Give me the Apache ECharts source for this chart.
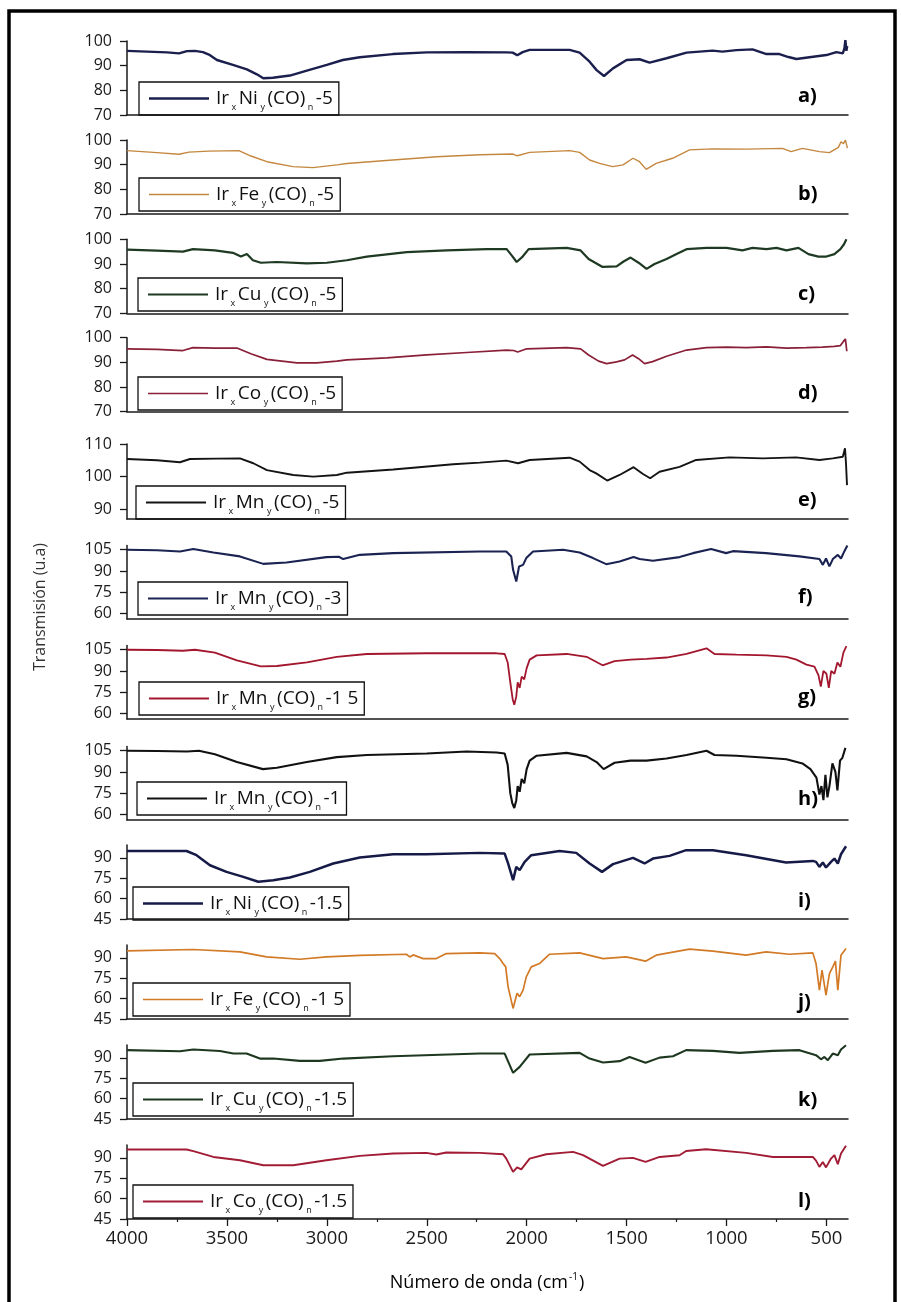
<!DOCTYPE html>
<html><head><meta charset="utf-8">
<script src="https://cdn.jsdelivr.net/npm/echarts@6/dist/echarts.min.js"></script>
<style>html,body{margin:0;padding:0;background:#fff}#c{width:901px;height:1302px}</style>
</head><body><div id="c"></div>
<script>
// ---- data: [wavenumber (cm-1), transmission (u.a.)] ----
const niquel5 = [[4000,96],[3900,95.7],[3800,95.4],[3740,95],[3700,95.9],[3660,96],[3620,95.5],[3590,94.5],[3550,92.3],[3470,90.3],[3400,88.5],[3350,86.5],[3318,84.9],[3270,85.1],[3185,86],[3100,88],[3000,90.3],[2920,92.3],[2835,93.4],[2670,94.7],[2500,95.4],[2300,95.5],[2100,95.4],[2070,95.3],[2047,94.2],[2020,95.5],[1985,96.4],[1785,96.4],[1735,95.3],[1685,91.6],[1650,88.2],[1613,85.8],[1568,88.9],[1500,92.3],[1435,92.6],[1385,91.2],[1300,93],[1200,95.3],[1070,96.1],[1020,95.7],[950,96.3],[870,96.6],[800,94.7],[735,94.7],[690,93.5],[650,92.7],[585,93.4],[500,94.3],[450,95.5],[418,95],[410,97],[405,100.4],[400,96],[396,98]];
const hierro5 = [[4000,95.7],[3850,94.9],[3740,94.2],[3690,95.1],[3590,95.5],[3440,95.7],[3380,93.5],[3300,91.2],[3170,89.2],[3070,88.8],[2950,89.9],[2900,90.5],[2670,91.9],[2450,93.2],[2235,94],[2068,94.3],[2047,93.6],[1985,95],[1785,95.7],[1735,95],[1685,91.9],[1635,90.5],[1570,89.2],[1518,89.9],[1468,92.6],[1435,91.2],[1402,88.1],[1352,90.5],[1270,92.6],[1185,96],[1070,96.4],[900,96.3],[720,96.6],[677,95.3],[620,96.6],[535,95.3],[485,94.9],[440,97],[427,99.3],[415,98.5],[405,100],[395,96.7]];
const cobre5 = [[4000,95.8],[3850,95.4],[3720,95],[3670,96],[3560,95.5],[3470,94.5],[3430,93],[3400,94],[3370,91.5],[3330,90.5],[3250,90.8],[3100,90.2],[3000,90.5],[2900,91.5],[2800,93],[2600,94.8],[2400,95.5],[2200,96],[2100,96],[2075,93.5],[2050,90.8],[2020,93],[1990,96],[1800,96.5],[1730,95.5],[1690,92],[1620,88.8],[1550,89],[1515,91],[1480,92.6],[1440,90.5],[1400,88],[1360,90],[1300,92],[1250,94],[1200,96],[1100,96.5],[1000,96.5],[920,95.5],[870,96.5],[800,96],[750,96.5],[700,95.5],[640,96.5],[590,94],[540,93],[500,93],[460,94],[430,96],[412,98],[400,100]];
const cobalto5 = [[4000,95.5],[3850,95.3],[3720,94.8],[3670,96],[3560,95.8],[3450,95.8],[3380,93.5],[3300,91.2],[3150,89.8],[3050,89.8],[2950,90.5],[2900,91],[2700,91.8],[2500,93],[2300,94],[2100,95],[2065,94.8],[2045,94.2],[2000,95.5],[1800,96],[1730,95.5],[1690,93],[1640,90.5],[1600,89.5],[1550,90.2],[1510,91],[1470,93],[1440,91.5],[1410,89.5],[1370,90.3],[1300,92.5],[1200,95],[1100,96],[1000,96.2],[900,96],[800,96.3],[700,95.8],[600,96],[520,96.2],[460,96.5],[430,96.8],[415,98.5],[405,99.5],[398,94.5]];
const manganeso5 = [[4000,105.4],[3850,105],[3735,104.4],[3685,105.4],[3550,105.5],[3435,105.6],[3368,104.1],[3300,102],[3168,100.5],[3068,100],[2950,100.5],[2900,101.2],[2668,102.2],[2368,103.8],[2235,104.3],[2102,104.9],[2043,104.1],[1985,105.1],[1785,105.8],[1735,104.6],[1685,102],[1652,101],[1597,98.8],[1535,100.5],[1465,102.9],[1418,100.8],[1382,99.5],[1335,101.5],[1235,103],[1152,105.1],[985,105.9],[818,105.6],[652,105.9],[535,105.1],[468,105.6],[418,106.1],[407,108.7],[402,104],[397,97.4]];
const manganeso3 = [[4000,105],[3850,104.6],[3735,103.8],[3668,105.5],[3568,103.1],[3435,100.3],[3318,95],[3202,96],[3002,99.8],[2940,100],[2918,98.4],[2835,101.4],[2668,102.6],[2235,103.8],[2102,103.8],[2077,100.2],[2068,90.8],[2052,82.5],[2038,93.2],[2018,94.3],[2002,99.1],[1968,103.8],[1818,105],[1735,103.1],[1668,99.1],[1602,94.8],[1535,96.7],[1465,99.8],[1435,98.4],[1368,97.2],[1235,99.8],[1168,102.6],[1077,105.5],[1002,102.6],[968,104],[802,102.6],[635,100.3],[535,98.4],[518,94.3],[502,98.8],[485,93.2],[468,98.4],[443,101.4],[427,98.8],[410,104],[395,108]];
const manganeso15 = [[4000,105],[3850,104.8],[3720,104.3],[3660,105],[3560,103],[3450,97.5],[3330,93.2],[3250,93.5],[3100,96],[2950,100],[2800,102],[2500,102.5],[2150,102.5],[2110,102],[2095,96],[2082,82],[2070,70],[2062,66],[2052,72],[2045,82],[2035,78],[2025,86],[2012,84],[2000,92],[1985,98],[1950,101],[1800,102],[1700,100],[1620,94],[1560,97],[1480,98],[1400,98.5],[1300,99.5],[1200,102],[1100,106],[1060,102],[950,101.5],[800,101],[700,100],[650,98],[600,94.5],[560,93],[540,87],[528,79],[515,90],[500,88],[488,78],[476,90],[460,88],[445,96],[430,93],[415,103],[400,107.5]];
const manganeso1 = [[4000,105],[3850,104.8],[3700,104.5],[3640,105],[3560,102.5],[3450,97],[3320,92],[3250,93],[3100,97],[2950,100.5],[2800,102],[2500,103],[2300,104.5],[2150,103.8],[2110,103],[2095,95],[2082,75],[2072,68],[2062,64.5],[2052,70],[2045,80],[2035,76],[2025,85],[2012,82],[2000,92],[1985,98],[1950,101.5],[1800,103.5],[1700,101],[1650,97],[1615,92],[1560,96.5],[1480,98],[1400,98],[1300,99.5],[1200,102],[1100,105],[1060,102],[950,101.5],[800,100],[700,99],[620,96],[580,92],[550,86],[535,74],[525,80],[515,70],[505,88],[495,72],[485,80],[470,96],[455,90],[445,77],[432,98],[420,100],[405,107]];
const niquel15 = [[4000,95.1],[3702,95.1],[3652,92],[3585,84.6],[3502,79.7],[3418,76],[3343,72.4],[3268,73.6],[3185,75.6],[3085,79.7],[2968,85.9],[2835,90.3],[2668,92.7],[2502,92.7],[2235,93.7],[2110,93.2],[2093,85.9],[2068,73.6],[2052,83.4],[2035,81],[2010,87.1],[1977,92],[1835,95.1],[1752,93.7],[1685,85.9],[1623,79.7],[1568,85.4],[1468,90],[1410,85.9],[1368,89.5],[1285,91.5],[1202,95.7],[1068,95.7],[902,92],[702,86.6],[568,87.8],[552,87.1],[535,83.4],[518,86.6],[502,82.9],[477,87.1],[460,89.5],[443,85.9],[427,92.7],[402,98.6]];
const hierro15 = [[4000,95.1],[3668,96.2],[3435,94.4],[3302,90.7],[3135,89],[3002,90.7],[2835,91.8],[2602,92.7],[2585,90.7],[2568,92.2],[2518,89.5],[2452,89.5],[2402,93.2],[2235,93.7],[2160,93.2],[2135,89.5],[2118,85.9],[2105,83.4],[2093,68.7],[2068,52.8],[2048,63.9],[2035,61.4],[2018,66.3],[2002,76],[1977,83.4],[1935,85.9],[1885,92.7],[1735,93.7],[1618,89.5],[1502,90.7],[1405,87.6],[1352,92],[1185,96.4],[1068,95],[902,92],[802,94.4],[685,92.7],[568,93.7],[552,85.9],[535,66.3],[522,81],[502,62.6],[485,78.5],[468,83.4],[455,87.6],[443,66.3],[427,92],[402,96.9]];
const cobre15 = [[4000,95.7],[3735,94.9],[3668,96.2],[3535,95.1],[3468,93.2],[3402,93.2],[3335,89.5],[3268,89.5],[3135,87.8],[3035,87.8],[2918,89.5],[2668,91.2],[2235,93.2],[2110,93.2],[2068,79],[2035,83.4],[1985,92.5],[1735,93.7],[1685,89.5],[1618,86.6],[1535,87.6],[1485,90.7],[1405,86.4],[1335,90.2],[1268,91.2],[1202,95.7],[1068,95.2],[935,93.7],[768,95.2],[635,95.7],[552,92],[527,89],[510,90.7],[493,88.3],[468,93.2],[443,92],[427,96.2],[402,99.3]];
const cobalto15 = [[4000,96.2],[3702,96.2],[3668,95],[3568,90.7],[3435,88.3],[3318,84.6],[3168,84.6],[3002,88.3],[2835,91.5],[2668,93.2],[2502,93.7],[2452,92.5],[2402,94],[2235,93.7],[2118,92.7],[2102,89.5],[2068,79.7],[2048,83],[2027,81.5],[1985,89.5],[1902,92.7],[1768,94.4],[1718,92],[1618,84.1],[1535,89.5],[1468,90],[1405,87.1],[1335,90.7],[1235,92],[1202,95.1],[1102,96.4],[902,93.7],[768,90.7],[568,90.7],[552,88],[535,83.4],[518,87],[502,83],[477,89.5],[460,92],[443,85.4],[427,93.2],[402,99]];

const xTickValues = [4000,3500,3000,2500,2000,1500,1000,500];
const xMinorTickValues = [3750,3250,2750,2250,1750,1250,750];
const yTicksA = [70,80,90,100];
const yTicksE = [90,100,110];
const yTicksF = [60,75,90,105];
const yTicksI = [45,60,75,90];
const metals = ['Ni','Fe','Cu','Co','Mn','Mn','Mn','Mn','Ni','Fe','Cu','Co'];
const suffixes = ['-5','-5','-5','-5','-5','-3','-1 5','-1','-1.5','-1 5','-1.5','-1.5'];
const panelLetters = ['a)','b)','c)','d)','e)','f)','g)','h)','i)','j)','k)','l)'];
const xAxisTitle = 'Número de onda (cm';
const yAxisTitle = 'Transmisión (u.a)';

// ---- layout / style ----
const seriesData = [niquel5,hierro5,cobre5,cobalto5,manganeso5,manganeso3,manganeso15,manganeso1,niquel15,hierro15,cobre15,cobalto15];
const colors = ['#1b1f4d','#c4873f','#1f3a22','#8a1f38','#141414','#1a2352','#a3172e','#111111','#161a47','#d27a26','#1e3820','#a11c34'];
const widths = [2.4,1.4,2.2,1.7,1.9,2.1,1.8,2.1,2.5,1.7,2.1,1.9];
const panels = [
  {top:41, h:74, min:70, max:100, ticks:yTicksA, leg:[139,82], lab:99},
  {top:140, h:74, min:70, max:100, ticks:yTicksA, leg:[139,178], lab:197},
  {top:239.3, h:74, min:70, max:100, ticks:yTicksA, leg:[138,278], lab:297},
  {top:337.7, h:74, min:70, max:100, ticks:yTicksA, leg:[138,377], lab:396},
  {top:444, h:75, min:87, max:110, ticks:yTicksE, leg:[136,486], lab:503},
  {top:545.5, h:73.5, min:56, max:108, ticks:yTicksF, leg:[138,582], lab:600},
  {top:645.5, h:73.5, min:56, max:108, ticks:yTicksF, leg:[139,682], lab:700},
  {top:746.5, h:73.5, min:56, max:108, ticks:yTicksF, leg:[137,782], lab:802},
  {top:845, h:74, min:45, max:99.5, ticks:yTicksI, leg:[133,887], lab:904},
  {top:945, h:74, min:45, max:99.5, ticks:yTicksI, leg:[133,983], lab:1005},
  {top:1045, h:74, min:45, max:99.5, ticks:yTicksI, leg:[133,1083], lab:1103},
  {top:1145, h:74, min:45, max:99.5, ticks:yTicksI, leg:[133,1185], lab:1204}
];
const FONT = 'Open Sans';
const axisColor = '#1a1a1a';
const names = metals.map((m,i)=>m+suffixes[i]+'#'+i);

const grid = [], xAxis = [], yAxis = [], series = [], legend = [], graphic = [];
panels.forEach((p,i)=>{
  grid.push({left:127, width:721, top:p.top, height:p.h});
  const last = i === panels.length-1;
  xAxis.push({type:'value', gridIndex:i, min:392, max:4000, inverse:true, position:'bottom',
    axisLine:{show:true, onZero:false, lineStyle:{color:axisColor, width:1.5}},
    axisTick:{show:last, customValues:xTickValues, length:7, lineStyle:{color:axisColor, width:1.3}},
    axisLabel:{show:last, customValues:xTickValues, formatter:v=>String(v), margin:10, fontFamily:FONT, fontSize:18.5, color:'#1a1a1a'},
    splitLine:{show:false}});
  yAxis.push({type:'value', gridIndex:i, min:p.min, max:p.max,
    axisLine:{show:true, lineStyle:{color:axisColor, width:1.5}},
    axisTick:{show:true, customValues:p.ticks, length:7, lineStyle:{color:axisColor, width:1.3}},
    axisLabel:{customValues:p.ticks, margin:15, fontFamily:FONT, fontSize:16, color:'#1a1a1a'},
    splitLine:{show:false}});
  series.push({type:'line', name:names[i], xAxisIndex:i, yAxisIndex:i, data:seriesData[i],
    symbol:'none', smooth:false, lineStyle:{color:colors[i], width:widths[i]}, itemStyle:{color:colors[i]}, z:3});
  legend.push({data:[{name:names[i], icon:'rect'}], left:p.leg[0], top:p.leg[1], orient:'horizontal',
    padding:[3,6,3,10], borderColor:'#111', borderWidth:1.3, itemWidth:60, itemHeight:widths[i],
    selectedMode:false,
    formatter:()=>'{g|}{n|Ir}{s|x}{n|'+metals[i]+'}{s|y}{n|(CO)}{s|n}{n|'+suffixes[i]+'}',
    textStyle:{rich:{
      g:{width:2},
      n:{fontFamily:FONT, fontSize:19, color:'#111', lineHeight:22},
      s:{fontFamily:FONT, fontSize:9, color:'#111', lineHeight:9, padding:[18,2.5,0,2.5]}
    }}});
  graphic.push({type:'text', left:798, top:p.lab-13, style:{text:panelLetters[i], font:'bold 20px "Open Sans"', fill:'#000'}});
});
// minor ticks on the bottom axis
xAxis.push({type:'value', gridIndex:panels.length-1, min:392, max:4000, inverse:true, position:'bottom',
  axisLine:{show:false}, axisTick:{show:true, customValues:xMinorTickValues, length:3, lineStyle:{color:axisColor, width:1.2}},
  axisLabel:{show:false}, splitLine:{show:false}});

graphic.push({type:'rect', shape:{x:9, y:11, width:886, height:1320}, style:{fill:'none', stroke:'#000', lineWidth:3.5}, z:10});
graphic.push({type:'text', x:40, y:607, rotation:Math.PI/2, style:{text:yAxisTitle, font:'16px "Open Sans"', fill:'#333', align:'center', verticalAlign:'middle'}});
graphic.push({type:'text', x:487, y:1283, style:{text:'{a|'+xAxisTitle+'}{b|-1}{a|)}', align:'center', verticalAlign:'middle',
  rich:{a:{fontFamily:FONT, fontSize:18, color:'#333', lineHeight:22}, b:{fontFamily:FONT, fontSize:10, color:'#333', lineHeight:10, padding:[0,1,12,1]}}}});

const chart = echarts.init(document.getElementById('c'), null, {renderer:'canvas'});
chart.setOption({animation:false, backgroundColor:'#fff', grid, xAxis, yAxis, series, legend, graphic});
</script></body></html>
